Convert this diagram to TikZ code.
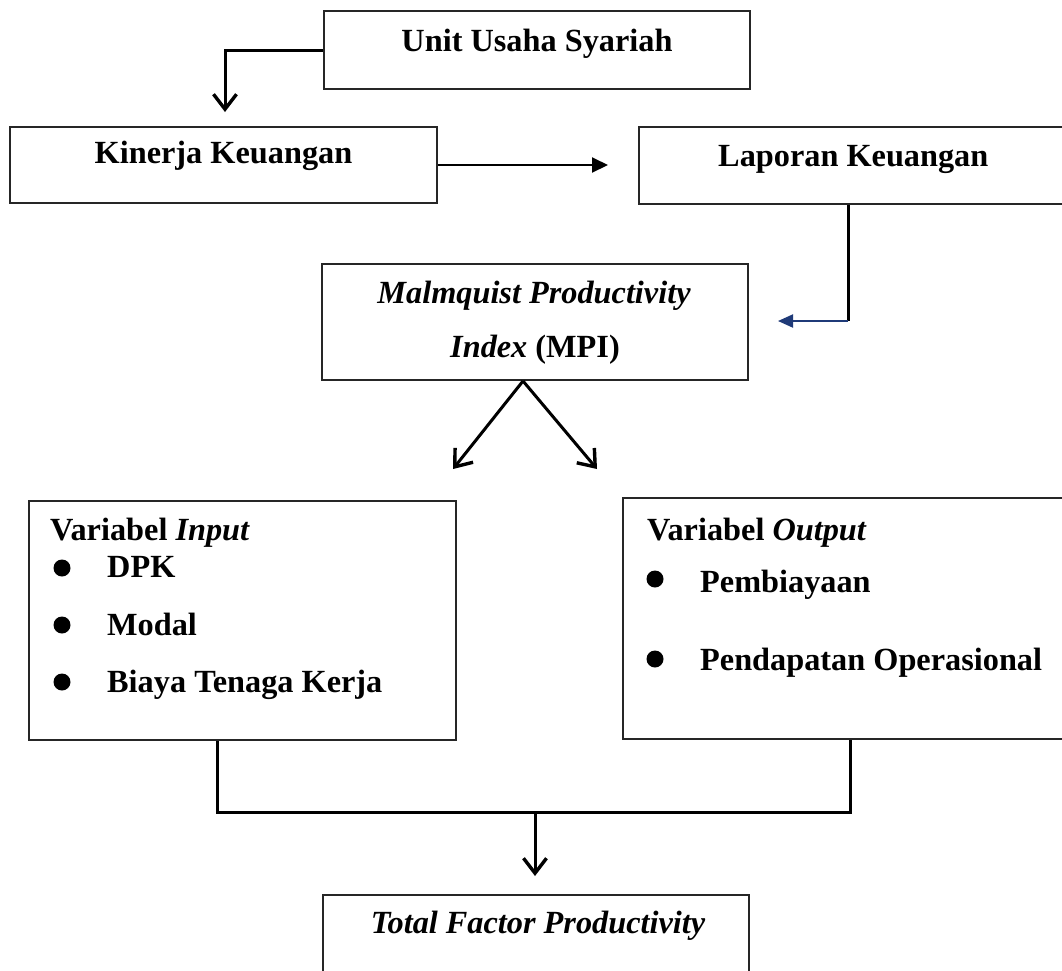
\documentclass[tikz,border=0pt]{standalone}
\usepackage{fontspec}
\setmainfont{Liberation Serif}
\usetikzlibrary{arrows.meta}
\definecolor{navy}{HTML}{1F3A78}
\begin{document}
\begin{tikzpicture}[x=1pt,y=-1pt,
  box/.style={draw=black!85,line width=2pt,rectangle,inner sep=0pt},
  txt/.style={inner sep=0pt,font=\fontsize{32.3}{38}\selectfont\bfseries},
  conn/.style={line width=3pt,black},
  barb/.style={conn,-{Straight Barb[length=15pt,width=23pt,line width=3.4pt]}},
  tri/.style={line width=2pt,black,-{Triangle[length=16pt,width=15pt]}},
  bluetri/.style={line width=2pt,navy,-{Triangle[length=15pt,width=13pt]}},
  bul/.style={fill=black}
]
\useasboundingbox (0,0) rectangle (1062,970);
\clip (0,0) rectangle (1062,970);
\fill[white] (0,0) rectangle (1062,970);

% boxes
\node[box,minimum width=426pt,minimum height=78pt] (unit) at (537,50) {};
\node[box,minimum width=427pt,minimum height=76pt] (kin) at (223.5,165) {};
\node[box,minimum width=441pt,minimum height=77pt] (lap) at (859.5,165.5) {};
\node[box,minimum width=426pt,minimum height=116pt] (mpi) at (535,322) {};
\node[box,minimum width=427pt,minimum height=239pt] (inp) at (242.5,620.5) {};
\node[box,minimum width=467pt,minimum height=241pt] (out) at (856.5,618.5) {};
\node[box,minimum width=426pt,minimum height=105pt] (tfp) at (536,947.5) {};

% texts
\node[txt,anchor=base] (tunit) at (537,51) {Unit Usaha Syariah};
\node[txt,anchor=base] (tkin) at (223.5,163) {Kinerja Keuangan};
\node[txt,anchor=base west] (tlap) at (718,166) {Laporan Keuangan};
\node[txt,anchor=base] (tmpi1) at (534,303) {\itshape Malmquist Productivity};
\node[txt,anchor=base] (tmpi2) at (535,357) {\itshape Index\/\upshape\ (MPI)};
\node[txt,anchor=base west] (tin0) at (50,540) {Variabel \itshape Input};
\node[txt,anchor=base west] (tin1) at (107,577) {DPK};
\node[txt,anchor=base west] (tin2) at (107,635) {Modal};
\node[txt,anchor=base west] (tin3) at (107,692) {Biaya Tenaga Kerja};
\node[txt,anchor=base west] (tout0) at (647,540) {Variabel \itshape Output};
\node[txt,anchor=base west] (tout1) at (700,592) {Pembiayaan};
\node[txt,anchor=base west] (tout2) at (700,670) {Pendapatan Operasional};
\node[txt,anchor=base] (ttfp) at (538,933) {\itshape Total Factor Productivity};

% bullets
\fill[bul] (62,568) circle (8.5);
\fill[bul] (62,625) circle (8.5);
\fill[bul] (62,682) circle (8.5);
\fill[bul] (655,579) circle (8.5);
\fill[bul] (655,659) circle (8.5);

% connector end points
\coordinate (kinIn) at (225,112);
\coordinate (lapIn) at (608,165);
\coordinate (bend) at (848,321);
\coordinate (mpiIn) at (778,321);
\coordinate (apex) at (523,381);
\coordinate (leftTip) at (453,469);
\coordinate (rightTip) at (597,469);
\coordinate (join) at (535,812);
\coordinate (tfpIn) at (535,876);

% connectors
\draw[barb] (unit.west) -| (kinIn);
\draw[tri] (kin.east) -- (lapIn);
\draw[conn] ([xshift=-11.5pt]lap.south) -- (bend);
\draw[bluetri] (bend) -- (mpiIn);
\draw[barb] (apex) -- (leftTip);
\draw[barb] (apex) -- (rightTip);
\draw[conn] ([xshift=-25.5pt]inp.south) |- (join) -| ([xshift=-6.5pt]out.south);
\draw[barb] (join) -- (tfpIn);
\end{tikzpicture}
\end{document}
